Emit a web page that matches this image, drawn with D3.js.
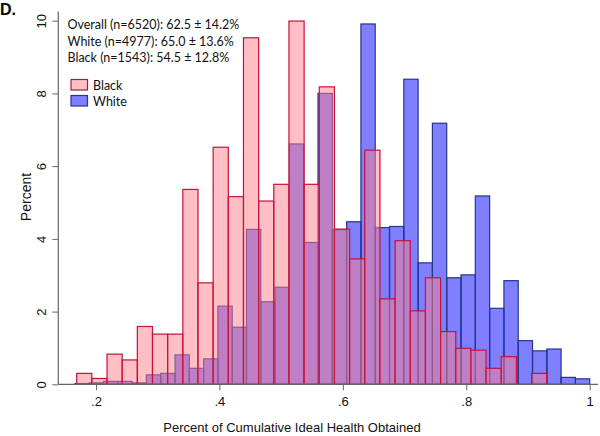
<!DOCTYPE html>
<html>
<head>
<meta charset="utf-8">
<script src="https://cdn.jsdelivr.net/npm/d3@7"></script>
<style>
html,body{margin:0;padding:0;background:#fff;}
svg{display:block;}
</style>
</head>
<body>
<svg id="chart" width="600" height="436"></svg>
<script>
// ---- data (percent per bin) ----
const blackStart = 0.1687;     // first bin left edge (Black)
const blackWidth = 0.02457;    // bin width (Black, 31 bins)
const blackPercent = [0.30,0.16,0.83,0.67,1.59,1.38,1.38,5.36,2.79,6.52,5.16,9.53,5.04,5.50,9.99,5.50,8.18,4.27,3.45,6.44,2.35,3.95,2.02,2.93,1.45,0.99,0.94,0.44,0.76,0.00,0.30];

const whiteStart = 0.1658;     // first bin left edge (White)
const whiteWidth = 0.023173;   // bin width (White, 36 bins)
const whitePercent = [0.02,0.04,0.08,0.08,0.04,0.26,0.30,0.81,0.44,0.70,2.15,1.57,4.26,2.27,2.67,6.61,3.90,8.00,4.25,4.47,9.91,4.31,4.34,8.39,3.34,7.18,2.93,3.01,5.18,2.09,2.85,1.20,0.92,0.97,0.19,0.15];

const xTicks = [0.2,0.4,0.6,0.8,1];
const xTickLabels = [".2",".4",".6",".8","1"];
const yTicks = [0,2,4,6,8,10];
const statLines = ["Overall (n=6520): 62.5 \u00b1 14.2%","White (n=4977): 65.0 \u00b1 13.6%","Black (n=1543): 54.5 \u00b1 12.8%"];
const legendItems = ["Black","White"];

// ---- build ----
const svg = d3.select("#chart");
const x = d3.scaleLinear().domain([0.2,1]).range([96,589.7]);
const y = d3.scaleLinear().domain([0,10]).range([384.3,20.7]);

const whiteBins = whitePercent.map((v,i)=>({x0: whiteStart+i*whiteWidth, x1: whiteStart+(i+1)*whiteWidth, v}));
const blackBins = blackPercent.map((v,i)=>({x0: blackStart+i*blackWidth, x1: blackStart+(i+1)*blackWidth, v}));

const colWhiteFill = "rgba(0,0,255,0.5)", colWhiteStroke = "#24378a";
const colBlackFill = "rgba(255,128,140,0.5)", colBlackStroke = "#c8103c";

svg.append("g").selectAll("rect").data(whiteBins).join("rect")
  .attr("x", d=>x(d.x0)).attr("width", d=>x(d.x1)-x(d.x0))
  .attr("y", d=>y(d.v)).attr("height", d=>y(0)-y(d.v))
  .attr("fill", colWhiteFill).attr("stroke", colWhiteStroke).attr("stroke-width",1.2);

svg.append("g").selectAll("rect").data(blackBins).join("rect")
  .attr("x", d=>x(d.x0)).attr("width", d=>x(d.x1)-x(d.x0))
  .attr("y", d=>y(d.v)).attr("height", d=>y(0)-y(d.v))
  .attr("fill", colBlackFill).attr("stroke", colBlackStroke).attr("stroke-width",1.2);

// axes
const axisCol = "#666";
const xAxis = svg.append("g").attr("transform","translate(0,384.3)")
  .call(d3.axisBottom(x).tickValues(xTicks).tickFormat((d,i)=>xTickLabels[i]).tickSize(6).tickPadding(6));
xAxis.select(".domain").remove();
xAxis.selectAll("line").attr("stroke",axisCol);
xAxis.selectAll("text").attr("font-family","Liberation Sans, Arial, sans-serif").attr("font-size","13px").attr("fill","#111");
svg.append("line").attr("x1",58.3).attr("x2",598).attr("y1",384.3).attr("y2",384.3).attr("stroke",axisCol).attr("stroke-width",1.2);

const yAxis = svg.append("g").attr("transform","translate(58.3,0)")
  .call(d3.axisLeft(y).tickValues(yTicks).tickSize(6).tickPadding(0));
yAxis.select(".domain").remove();
yAxis.selectAll("line").attr("stroke",axisCol);
yAxis.selectAll("text").remove();
yAxis.selectAll("g.tick").append("text")
  .attr("transform","translate(-12,0) rotate(-90)")
  .attr("text-anchor","middle").attr("dy","0")
  .attr("font-family","Liberation Sans, Arial, sans-serif").attr("font-size","13px").attr("fill","#111")
  .text(d=>d);
svg.append("line").attr("x1",58.3).attr("x2",58.3).attr("y1",11.5).attr("y2",384.3).attr("stroke",axisCol).attr("stroke-width",1.2);

// titles
svg.append("text").attr("x",292).attr("y",432).attr("text-anchor","middle")
  .attr("font-family","Liberation Sans, Arial, sans-serif").attr("font-size","13px").attr("fill","#111")
  .text("Percent of Cumulative Ideal Health Obtained");
svg.append("text").attr("transform","translate(31,197) rotate(-90)").attr("text-anchor","middle")
  .attr("font-family","Liberation Sans, Arial, sans-serif").attr("font-size","14px").attr("fill","#111")
  .text("Percent");
svg.append("text").attr("x",0).attr("y",15).attr("font-family","Liberation Sans, Arial, sans-serif")
  .attr("font-size","16px").attr("font-weight","bold").attr("fill","#000").text("D.");

// stats text
svg.append("g").selectAll("text").data(statLines).join("text")
  .attr("x",67.5).attr("y",(d,i)=>29.3+i*16.2)
  .attr("font-family","Lato, sans-serif").attr("font-size","12.5px").attr("fill","#111")
  .text(d=>d);

// legend
const legFills = [colBlackFill, colWhiteFill];
const leg = svg.append("g").selectAll("g").data(legendItems).join("g")
  .attr("transform",(d,i)=>`translate(71,${79.5+i*16})`);
leg.append("rect").attr("width",16.5).attr("height",10.5)
  .attr("fill",(d,i)=>legFills[i]).attr("stroke",(d,i)=>["#8a2b3a","#24378a"][i]).attr("stroke-width",1.2);
leg.append("text").attr("x",22).attr("y",10.8)
  .attr("font-family","Lato, sans-serif").attr("font-size","12.5px").attr("fill","#111")
  .text(d=>d);
</script>
</body>
</html>
